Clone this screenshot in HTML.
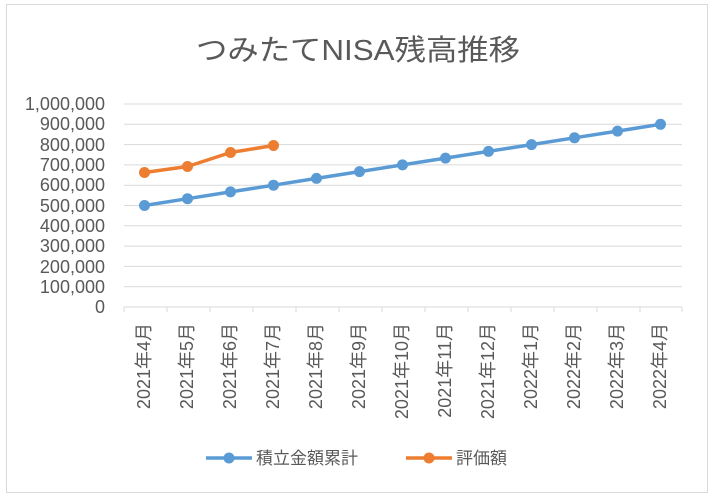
<!DOCTYPE html>
<html><head><meta charset="utf-8"><style>
body{margin:0;background:#fff;}
svg text{font-family:"Liberation Sans","Noto Sans CJK JP",sans-serif;fill:#595959;}
</style></head><body>
<svg width="714" height="498" viewBox="0 0 714 498" xmlns="http://www.w3.org/2000/svg">
<rect x="6.5" y="4.5" width="701" height="488" fill="#fff" stroke="#d9d9d9"/>
<text x="196" y="60" font-size="29" textLength="324" lengthAdjust="spacingAndGlyphs">つみたてNISA残高推移</text>
<g stroke="#d9d9d9" stroke-width="1">
<line x1="124" x2="682" y1="104" y2="104"/><line x1="124" x2="682" y1="124.3" y2="124.3"/>
<line x1="124" x2="682" y1="144.6" y2="144.6"/><line x1="124" x2="682" y1="164.9" y2="164.9"/>
<line x1="124" x2="682" y1="185.2" y2="185.2"/><line x1="124" x2="682" y1="205.5" y2="205.5"/>
<line x1="124" x2="682" y1="225.8" y2="225.8"/><line x1="124" x2="682" y1="246.1" y2="246.1"/>
<line x1="124" x2="682" y1="266.4" y2="266.4"/><line x1="124" x2="682" y1="286.7" y2="286.7"/>
<line x1="124" x2="682" y1="307" y2="307"/>
<line x1="124" x2="124" y1="307" y2="312"/><line x1="167" x2="167" y1="307" y2="312"/>
<line x1="210" x2="210" y1="307" y2="312"/><line x1="253" x2="253" y1="307" y2="312"/>
<line x1="296" x2="296" y1="307" y2="312"/><line x1="339" x2="339" y1="307" y2="312"/>
<line x1="382" x2="382" y1="307" y2="312"/><line x1="425" x2="425" y1="307" y2="312"/>
<line x1="468" x2="468" y1="307" y2="312"/><line x1="511" x2="511" y1="307" y2="312"/>
<line x1="554" x2="554" y1="307" y2="312"/><line x1="597" x2="597" y1="307" y2="312"/>
<line x1="640" x2="640" y1="307" y2="312"/><line x1="682" x2="682" y1="307" y2="312"/>
</g>
<g font-size="18" text-anchor="end">
<text x="105" y="110">1,000,000</text><text x="105" y="130">900,000</text>
<text x="105" y="151">800,000</text><text x="105" y="171">700,000</text>
<text x="105" y="191">600,000</text><text x="105" y="212">500,000</text>
<text x="105" y="232">400,000</text><text x="105" y="252">300,000</text>
<text x="105" y="273">200,000</text><text x="105" y="293">100,000</text>
<text x="105" y="313">0</text>
</g>
<g font-size="18" text-anchor="end">
<text transform="translate(150,323) rotate(-90)">2021年4月</text>
<text transform="translate(193,323) rotate(-90)">2021年5月</text>
<text transform="translate(236,323) rotate(-90)">2021年6月</text>
<text transform="translate(279,323) rotate(-90)">2021年7月</text>
<text transform="translate(322,323) rotate(-90)">2021年8月</text>
<text transform="translate(365,323) rotate(-90)">2021年9月</text>
<text transform="translate(408,323) rotate(-90)">2021年10月</text>
<text transform="translate(451,323) rotate(-90)">2021年11月</text>
<text transform="translate(494,323) rotate(-90)">2021年12月</text>
<text transform="translate(537,323) rotate(-90)">2022年1月</text>
<text transform="translate(580,323) rotate(-90)">2022年2月</text>
<text transform="translate(623,323) rotate(-90)">2022年3月</text>
<text transform="translate(666,323) rotate(-90)">2022年4月</text>
</g>
<polyline fill="none" stroke="#5b9bd5" stroke-width="3.5" stroke-linejoin="round" points="144.5,205.5 187.5,198.7 230.5,191.9 273.5,185.2 316.5,178.4 359.5,171.6 402.5,164.9 445.5,158.1 488.5,151.4 531.5,144.6 574.5,137.8 617.5,131.1 660.5,124.3"/>
<g fill="#5b9bd5">
<circle cx="144.5" cy="205.5" r="5.5"/><circle cx="187.5" cy="198.7" r="5.5"/><circle cx="230.5" cy="191.9" r="5.5"/><circle cx="273.5" cy="185.2" r="5.5"/><circle cx="316.5" cy="178.4" r="5.5"/><circle cx="359.5" cy="171.6" r="5.5"/><circle cx="402.5" cy="164.9" r="5.5"/><circle cx="445.5" cy="158.1" r="5.5"/><circle cx="488.5" cy="151.4" r="5.5"/><circle cx="531.5" cy="144.6" r="5.5"/><circle cx="574.5" cy="137.8" r="5.5"/><circle cx="617.5" cy="131.1" r="5.5"/><circle cx="660.5" cy="124.3" r="5.5"/>
</g>
<polyline fill="none" stroke="#ed7d31" stroke-width="3.5" stroke-linejoin="round" points="144.5,172.5 187.5,166.5 230.5,152.5 273.5,145.5"/>
<g fill="#ed7d31">
<circle cx="144.5" cy="172.5" r="5.5"/><circle cx="187.5" cy="166.5" r="5.5"/><circle cx="230.5" cy="152.5" r="5.5"/><circle cx="273.5" cy="145.5" r="5.5"/>
</g>
<line x1="206" x2="252" y1="458" y2="458" stroke="#5b9bd5" stroke-width="3.5"/>
<circle cx="229" cy="458" r="5.5" fill="#5b9bd5"/>
<text x="256" y="464" font-size="17">積立金額累計</text>
<line x1="406" x2="452" y1="458" y2="458" stroke="#ed7d31" stroke-width="3.5"/>
<circle cx="429" cy="458" r="5.5" fill="#ed7d31"/>
<text x="456" y="464" font-size="17">評価額</text>
</svg>
</body></html>
